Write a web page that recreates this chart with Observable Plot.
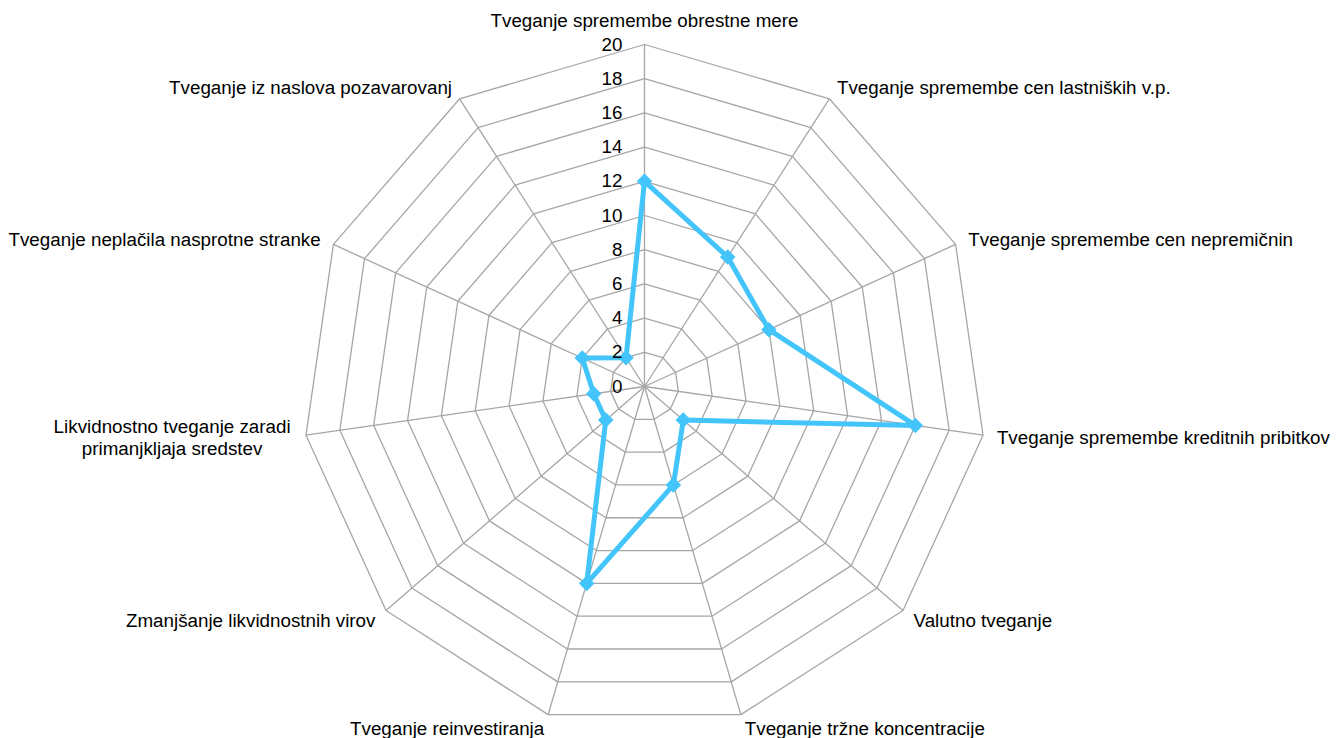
<!DOCTYPE html>
<html>
<head>
<meta charset="utf-8">
<script src="https://cdn.jsdelivr.net/npm/d3@7"></script>
<script src="https://cdn.jsdelivr.net/npm/@observablehq/plot@0.6"></script>
<style>
  html, body { margin: 0; padding: 0; background: #ffffff; }
  #chart svg { display: block; }
</style>
</head>
<body>
<div id="chart"></div>
<script>
// ---- data ----
const categories = [
  "Tveganje spremembe obrestne mere",
  "Tveganje spremembe cen lastniških v.p.",
  "Tveganje spremembe cen nepremičnin",
  "Tveganje spremembe kreditnih pribitkov",
  "Valutno tveganje",
  "Tveganje tržne koncentracije",
  "Tveganje reinvestiranja",
  "Zmanjšanje likvidnostnih virov",
  "Likvidnostno tveganje zaradi\nprimanjkljaja sredstev",
  "Tveganje neplačila nasprotne stranke",
  "Tveganje iz naslova pozavarovanj"
];
const values = [12, 9, 8, 16, 3, 6, 12, 3, 3, 4, 2];
const tickValues = [0, 2, 4, 6, 8, 10, 12, 14, 16, 18, 20];
const gridLevels = [2, 4, 6, 8, 10, 12, 14, 16, 18, 20];
const maxValue = 20;

// ---- layout ----
const W = 1343, H = 738;
const cx = 644, cy = 386;          // centre in px
const unitPx = 342 / maxValue;      // px per data unit
const n = categories.length;
const angle = i => (i * 2 * Math.PI) / n;
const px = (i, r) => r * Math.sin(angle(i));
const py = (i, r) => r * Math.cos(angle(i));

// grid polygons
const gridData = [];
for (const lvl of gridLevels) {
  for (let i = 0; i <= n; i++) {
    const k = i % n;
    gridData.push({level: lvl, x: px(k, lvl), y: py(k, lvl)});
  }
}
// spokes
const spokes = categories.map((c, i) => ({x2: px(i, maxValue), y2: py(i, maxValue)}));
// series
const seriesPts = values.map((v, i) => ({cat: categories[i], v, x: px(i, v), y: py(i, v)}));
const seriesLine = [...seriesPts, seriesPts[0]];

// axis labels
const fontSize = 18.8;
const off = 14;
const labelData = categories.map((c, i) => {
  const s = Math.sin(angle(i)), co = Math.cos(angle(i));
  let anchor = Math.abs(s) < 0.01 ? "middle" : (s > 0 ? "start" : "end");
  let dx = off * s, dy = -off * co;
  if (co > 0.99) dy -= 10;
  if (c.includes("\n")) { anchor = "middle"; dx -= 120; }
  return {label: c, x: px(i, maxValue), y: py(i, maxValue), anchor, dx, dy};
});

const xDomain = [-cx / unitPx, (W - cx) / unitPx];
const yDomain = [-(H - cy) / unitPx, cy / unitPx];

const font = "'Liberation Sans', Arial, 'DejaVu Sans', sans-serif";
const gridColor = "#a6a6a6";
const seriesColor = "#43c5fb";

const labelMarks = labelData.map(d => Plot.text([d], {
  x: "x", y: "y", text: "label",
  dx: d.dx, dy: d.dy,
  textAnchor: d.anchor, lineAnchor: "middle", lineHeight: 1.15,
  fontSize, fill: "#000"
}));

const chart = Plot.plot({
  width: W,
  height: H,
  margin: 0,
  x: {domain: xDomain, axis: null},
  y: {domain: yDomain, axis: null},
  style: {fontFamily: font, background: "#ffffff", overflow: "visible"},
  marks: [
    Plot.line(gridData, {x: "x", y: "y", z: "level", stroke: gridColor, strokeWidth: 1.3}),
    Plot.link(spokes, {x1: 0, y1: 0, x2: "x2", y2: "y2", stroke: gridColor, strokeWidth: 1.3}),
    Plot.line(seriesLine, {x: "x", y: "y", stroke: seriesColor, strokeWidth: 5, strokeLinejoin: "miter"}),
    Plot.dot(seriesPts, {x: "x", y: "y", symbol: "diamond2", r: 7, fill: seriesColor, stroke: "none"}),
    Plot.text(tickValues, {x: 0, y: d => d, text: d => String(d), textAnchor: "end", lineAnchor: "middle", dx: -22, fontSize, fill: "#000"}),
    ...labelMarks
  ]
});
document.getElementById("chart").appendChild(chart);
</script>
</body>
</html>
